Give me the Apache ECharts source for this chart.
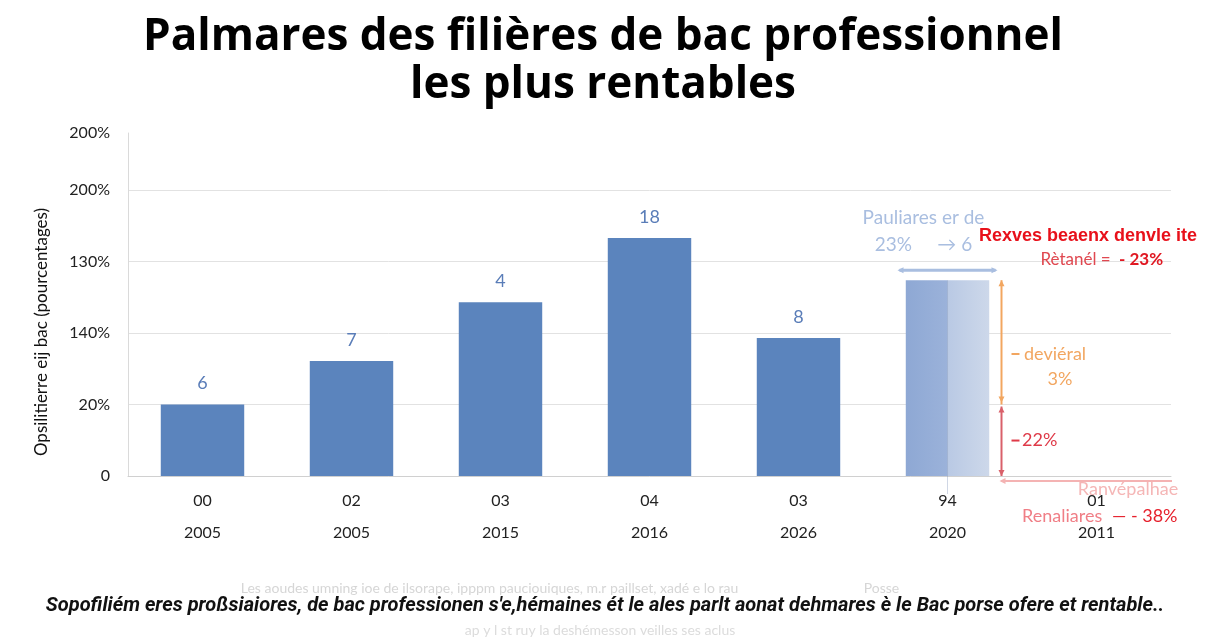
<!DOCTYPE html>
<html>
<head>
<meta charset="utf-8">
<script src="https://cdn.jsdelivr.net/npm/echarts@6/dist/echarts.min.js"></script>
<style>
  html, body { margin: 0; padding: 0; background: #fff; }
  #main { width: 1216px; height: 640px; }
</style>
</head>
<body>
<div id="main"></div>
<script>
// data
const categories = ['00\n2005', '02\n2005', '03\n2015', '04\n2016', '03\n2026', '94\n2020', '01\n2011'];
const values = [1.0, 1.61, 2.43, 3.33, 1.93, 2.74, null];
const barLabels = ['6', '7', '4', '18', '8', '', ''];
const tickValues = [0, 1, 2, 3, 4, 4.8];
const tickLabels = ['0', '20%', '140%', '130%', '200%', '200%'];

const chart = echarts.init(document.getElementById('main'));

const barData = values.map((v, i) => {
  if (i === 5) {
    return {
      value: v,
      itemStyle: {
        color: new echarts.graphic.LinearGradient(0, 0, 1, 0, [
          { offset: 0, color: '#8ea8d4' },
          { offset: 0.5, color: '#9bb2da' },
          { offset: 0.5, color: '#b9c9e4' },
          { offset: 1, color: '#cdd8ea' }
        ])
      },
      label: {
        show: true,
        position: 'top',
        distance: 22,
        offset: [-24, 0],
        formatter: '{a|Pauliares er de}\n{b|23%}  {c|→ 6}',
        rich: {
          a: { color: '#a9bee0', fontSize: 19, fontFamily: 'Lato', lineHeight: 27, align: 'center' },
          b: { color: '#a9bee0', fontSize: 19, fontFamily: 'Lato', lineHeight: 27 },
          c: { color: '#a9bee0', fontSize: 19, fontFamily: 'Lato', lineHeight: 27, padding: [0, 0, 0, 16] }
        }
      }
    };
  }
  return v;
});

const option = {
  animation: false,
  title: {
    text: 'Palmares des filières de bac professionnel\nles plus rentables',
    left: 598,
    top: 8,
    textAlign: 'center',
    textStyle: {
      fontFamily: 'Open Sans',
      fontWeight: 'bold',
      fontSize: 44,
      color: '#000',
      lineHeight: 48
    }
  },
  grid: { left: 128, right: 45, top: 133, bottom: 164 },
  xAxis: {
    type: 'category',
    data: categories,
    axisLine: { lineStyle: { color: '#d0d0d0' } },
    axisTick: { show: false },
    axisLabel: {
      color: '#222',
      fontFamily: 'Lato',
      fontSize: 16,
      lineHeight: 32,
      margin: 9
    }
  },
  yAxis: {
    type: 'value',
    min: 0,
    max: 4.8,
    interval: 1,
    axisLine: { show: true, lineStyle: { color: '#dadada' } },
    splitLine: {
      lineStyle: { color: ['#e2e2e2', '#e2e2e2', '#e2e2e2', '#e2e2e2', '#e2e2e2', 'rgba(0,0,0,0)'] }
    },
    axisLabel: {
      color: '#222',
      fontFamily: 'Lato',
      fontSize: 16,
      margin: 18,
      formatter: (v) => {
        const i = tickValues.findIndex(t => Math.abs(t - v) < 1e-6);
        return i >= 0 ? tickLabels[i] : '';
      }
    }
  },
  series: [{
    type: 'bar',
    data: barData,
    barWidth: '56%',
    itemStyle: { color: '#5b84bd' },
    label: {
      show: true,
      position: 'top',
      distance: 12,
      color: '#5a7db8',
      fontSize: 18,
      fontFamily: 'Lato',
      formatter: (p) => barLabels[p.dataIndex]
    }
  }]
};

chart.setOption(option);

// annotations placed from the chart's own scale
function px(cat, val) { return chart.convertToPixel({ gridIndex: 0 }, [cat, val]); }
function arrowHead(x, y, dir, color) {
  const s = 6;
  let pts;
  if (dir === 'up') pts = [[x, y], [x - s / 2, y + s], [x + s / 2, y + s]];
  else if (dir === 'down') pts = [[x, y], [x - s / 2, y - s], [x + s / 2, y - s]];
  else if (dir === 'left') pts = [[x, y], [x + s, y - s / 2], [x + s, y + s / 2]];
  else pts = [[x, y], [x - s, y - s / 2], [x - s, y + s / 2]];
  return { type: 'polygon', shape: { points: pts }, style: { fill: color }, z: 20 };
}
function line(x1, y1, x2, y2, color, w) {
  return { type: 'line', shape: { x1, y1, x2, y2 }, style: { stroke: color, lineWidth: w || 2 }, z: 20 };
}
function txt(x, y, text, color, size, weight, align, family) {
  return {
    type: 'text', x, y, z: 21,
    style: {
      text, fill: color, fontSize: size, fontWeight: weight || 'normal',
      fontFamily: family || 'Lato', textAlign: align || 'left', textVerticalAlign: 'middle'
    }
  };
}

const top6 = px(5, values[5]);
const base6 = px(5, 0);
const lvl1 = px(5, values[0]);
const cx = top6[0];
const ax = cx + 54;
const blue = '#a9bee0', orange = '#f2a660', red = '#df3a48', pink = '#f4b3b3';

const g = [
  // y axis title, rotated
  {
    type: 'text', x: 42, y: 332, rotation: Math.PI / 2, z: 21,
    style: {
      text: 'Opsilitierre eij bac (pourcentages)', fill: '#111', fontSize: 17,
      fontFamily: 'Lato', textAlign: 'center', textVerticalAlign: 'middle'
    }
  },
  // blue double arrow over the last bar
  line(cx - 48, top6[1] - 10, cx + 48, top6[1] - 10, blue, 3),
  arrowHead(cx - 50, top6[1] - 10, 'left', blue),
  arrowHead(cx + 50, top6[1] - 10, 'right', blue),
  // orange vertical arrow
  line(ax, top6[1], ax, lvl1[1], orange, 2),
  arrowHead(ax, top6[1], 'up', orange),
  arrowHead(ax, lvl1[1] - 2, 'down', orange),
  // red vertical arrow
  line(ax, lvl1[1] + 2, ax, base6[1], '#d9606a', 2),
  arrowHead(ax, lvl1[1] + 2, 'up', '#d9606a'),
  arrowHead(ax, base6[1], 'down', '#d9606a'),
  // pink horizontal arrow at the base
  line(ax, base6[1] + 5, 1172, base6[1] + 5, pink, 2),
  arrowHead(ax - 2, base6[1] + 5, 'left', pink),
  // dashes next to arrows
  line(ax + 10, 354, ax + 18, 354, orange, 2),
  line(ax + 10, lvl1[1] + 36, ax + 18, lvl1[1] + 36, red, 2),
  // light divider inside the last bar, running below the axis
  line(cx, top6[1], cx, base6[1] + 18, 'rgba(120,140,180,0.35)', 1),
  // texts
  txt(1088, 236, 'Rexves beaenx denvle ite', '#e8101a', 18, 'bold', 'center', 'Liberation Sans'),
  txt(1115, 260, 'Rètanél = ', '#e04850', 17, 'normal', 'right'),
  txt(1119, 260, '- 23%', '#e01822', 17, 'bold', 'left'),
  txt(1024, 354, 'deviéral', orange, 18, 'normal', 'left'),
  txt(1060, 379, '3%', orange, 18, 'normal', 'center'),
  txt(1022, lvl1[1] + 36, '22%', red, 18, 'normal', 'left'),
  txt(1128, base6[1] + 13, 'Ranvépalhae', '#f5b6b6', 18, 'normal', 'center'),
  txt(1022, 516, 'Renaliares', '#f07e86', 18, 'normal', 'left'),
  txt(1112, 516, '— - 38%', '#e6202c', 18, 'normal', 'left'),
  // faded lines around the footnote
  txt(570, 588, 'Les aoudes umning ioe de ilsorape, ipppm pauciouiques, m.r paillset, xadé e lo rau                                   Posse', '#d6d6d6', 14, 'normal', 'center'),
  txt(600, 630, 'ap y l st ruy la deshémesson veilles ses aclus', '#dcdcdc', 14, 'normal', 'center'),
  // footnote
  {
    type: 'text', x: 605, y: 606, z: 21,
    style: {
      text: "Sopofiliém eres proßsiaiores, de bac professionen s'e,hémaines ét le ales parlt aonat dehmares è le Bac porse ofere et rentable..",
      fill: '#111', fontSize: 20, fontStyle: 'italic', fontWeight: 'bold',
      fontFamily: 'Roboto', textAlign: 'center', textVerticalAlign: 'middle'
    }
  }
];

chart.setOption({ graphic: g });
</script>
</body>
</html>
